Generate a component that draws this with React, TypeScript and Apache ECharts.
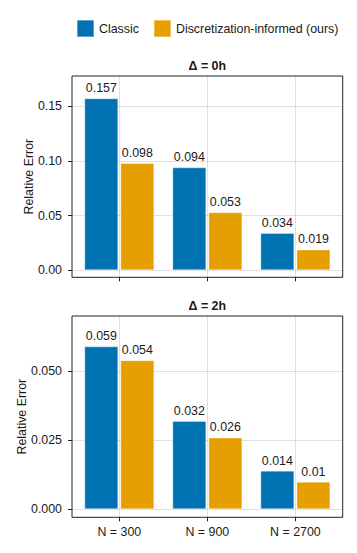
import React, { useEffect, useRef } from "react";
import * as echarts from "echarts";

const categories = ["N = 300", "N = 900", "N = 2700"];
const seriesNames = ["Classic", "Discretization-informed (ours)"];
const classic0h = [0.157, 0.094, 0.034];
const ours0h = [0.098, 0.053, 0.019];
const classic2h = [0.059, 0.032, 0.014];
const ours2h = [0.054, 0.026, 0.01];
const panelTitles = ["Δ = 0h", "Δ = 2h"];
const yTicks0 = [0, 0.05, 0.1, 0.15];
const yTicks2 = [0, 0.025, 0.05];

const BLUE = "#0072B2";
const ORANGE = "#E69F00";
const FONT = "Liberation Sans, Arial, sans-serif";
const INK = "#1a1a1a";
const GRIDC = "rgba(0,0,0,0.12)";
const FS = 12.4;

export default function App() {
  const ref = useRef<HTMLDivElement>(null);
  useEffect(() => {
    if (!ref.current) return;
    const chart = echarts.init(ref.current, undefined, { renderer: "svg" });
    const xPos = categories.map((_, i) => i + 1);
    const toData = (vals: number[]) => vals.map((v, i) => [xPos[i], v]);

    const grids = [
      { left: 72, right: 14.3, top: 76, height: 201.3, show: true, borderColor: "#222", borderWidth: 1, backgroundColor: "transparent" },
      { left: 72, right: 14.3, top: 316, height: 201.3, show: true, borderColor: "#222", borderWidth: 1, backgroundColor: "transparent" },
    ];
    const mkX = (gi: number, showLabels: boolean) => ({
      type: "value",
      gridIndex: gi,
      min: 0.4625,
      max: 3.5375,
      axisLine: { show: false, onZero: false },
      axisTick: { show: true, length: 4, customValues: xPos, lineStyle: { color: "#222" } },
      axisLabel: {
        show: showLabels,
        customValues: xPos,
        margin: 9,
        fontSize: FS,
        fontFamily: FONT,
        color: INK,
        formatter: (v: number) => categories[Math.round(v) - 1] ?? "",
      },
      splitLine: { show: true, lineStyle: { color: GRIDC, width: 1 } },
    });
    const mkY = (gi: number, min: number, max: number, ticks: number[], digits: number, gap: number) => ({
      type: "value",
      gridIndex: gi,
      min,
      max,
      name: "Relative Error",
      nameLocation: "middle",
      nameGap: gap,
      nameMoveOverlap: false,
      nameTextStyle: { fontSize: FS, fontFamily: FONT, color: INK },
      axisLine: { show: false, onZero: false },
      axisTick: { show: true, length: 4, customValues: ticks, lineStyle: { color: "#222" } },
      axisLabel: {
        customValues: ticks,
        margin: 10,
        fontSize: FS,
        fontFamily: FONT,
        color: INK,
        formatter: (v: number) => v.toFixed(digits),
      },
      splitLine: { show: true, lineStyle: { color: GRIDC, width: 1 } },
    });
    const mkSeries = (name: string, vals: number[], gi: number, color: string) => ({
      type: "bar",
      name,
      xAxisIndex: gi,
      yAxisIndex: gi,
      data: toData(vals),
      barWidth: 34,
      barGap: "6%",
      itemStyle: { color, borderColor: "rgba(255,255,255,0.35)", borderWidth: 1 },
      label: {
        show: true,
        position: "top",
        distance: 4,
        fontSize: FS,
        fontFamily: FONT,
        color: INK,
        formatter: (p: any) => String(p.value[1]),
      },
    });

    chart.setOption({
      animation: false,
      backgroundColor: "#fff",
      textStyle: { fontFamily: FONT },
      legend: {
        left: 76,
        top: 19,
        padding: 0,
        itemWidth: 17,
        itemHeight: 17,
        itemGap: 14,
        icon: "rect",
        data: seriesNames,
        textStyle: { fontSize: FS, fontFamily: FONT, color: INK },
      },
      title: [
        { text: panelTitles[0], left: 207.3, top: 60, textAlign: "center", padding: 0, textStyle: { fontSize: FS, fontWeight: "bold", fontFamily: FONT, color: INK } },
        { text: panelTitles[1], left: 207.3, top: 300, textAlign: "center", padding: 0, textStyle: { fontSize: FS, fontWeight: "bold", fontFamily: FONT, color: INK } },
      ],
      grid: grids,
      xAxis: [mkX(0, false), mkX(1, true)],
      yAxis: [
        mkY(0, -0.0064, 0.1774, yTicks0, 2, 37),
        mkY(1, -0.0029, 0.07, yTicks2, 3, 44),
      ],
      series: [
        mkSeries(seriesNames[0], classic0h, 0, BLUE),
        mkSeries(seriesNames[1], ours0h, 0, ORANGE),
        mkSeries(seriesNames[0], classic2h, 1, BLUE),
        mkSeries(seriesNames[1], ours2h, 1, ORANGE),
      ],
    });
    return () => chart.dispose();
  }, []);
  return (
    <div
      ref={ref}
      style={{ position: "absolute", left: 0, top: 0, width: 357, height: 553 }}
    />
  );
}
